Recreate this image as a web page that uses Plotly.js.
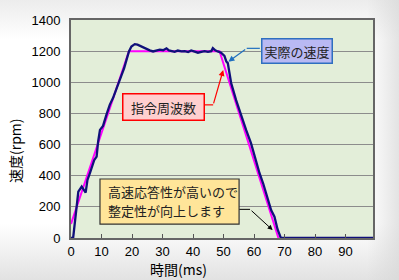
<!DOCTYPE html>
<html>
<head>
<meta charset="utf-8">
<script src="https://cdn.plot.ly/plotly-3.0.1.min.js"></script>
<style>
html,body{margin:0;padding:0;}
body{width:399px;height:280px;overflow:hidden;
background:
 linear-gradient(to right, rgba(255,255,255,0) 0%, rgba(255,255,255,0) 92%, rgba(215,215,215,0.7) 100%),
 linear-gradient(to bottom, #ececec 0%, #ffffff 14%, #ffffff 80%, #e2e2e2 100%);}
#chart{width:399px;height:280px;}
</style>
</head>
<body>
<div id="chart"></div>
<script>
// Command frequency (magenta)
const cmdTime = [0, 19, 48.7, 68];
const cmdSpeed = [90, 1200, 1200, 0];

// Actual speed (navy)
const actTime = [0, 0.7, 2.4, 3.5, 4.8, 5.4, 6.2, 7.0, 7.6, 8.4, 8.6, 8.9, 9.5, 10.5, 11.6, 12.7, 13.8, 14.9, 15.8, 16.6, 17.4, 18.2, 19.0, 19.8, 20.9, 21.8, 22.5, 23.5, 24.7, 25.8, 26.9, 28.0, 29.1, 30.2, 31.3, 32.1, 32.9, 34.0, 35.0, 36.2, 37.3, 38.4, 39.4, 40.5, 41.6, 42.7, 43.8, 44.9, 46.0, 46.5, 47.3, 48.1, 49.2, 50.3, 50.9, 51.4, 52.0, 52.5, 54.1, 55.8, 57.4, 59.0, 60.4, 61.8, 63.0, 64.0, 65.6, 66.7, 67.7, 68.8, 99];
const actSpeed = [0, 0, 298, 330, 291, 373, 416, 469, 500, 523, 577, 620, 694, 720, 791, 855, 900, 963, 1000, 1048, 1090, 1145, 1198, 1230, 1245, 1242, 1235, 1225, 1215, 1205, 1198, 1205, 1210, 1206, 1218, 1205, 1200, 1196, 1204, 1198, 1200, 1194, 1204, 1198, 1190, 1196, 1200, 1196, 1200, 1219, 1205, 1198, 1190, 1170, 1134, 1123, 1059, 995, 887, 780, 694, 609, 510, 416, 350, 287, 180, 137, 56, 0, 0];

const xTickVals = [0, 10, 20, 30, 40, 50, 60, 70, 80, 90];
const yTickVals = [0, 200, 400, 600, 800, 1000, 1200, 1400];

const labelActual = '実際の速度';
const labelCmd = '指令周波数';
const noteLine1 = '高速応答性が高いので';
const noteLine2 = '整定性が向上します';
const xTitle = '時間(ms)';
const yTitle = '速度(rpm)';

const jp = '"Noto Sans CJK JP", "Liberation Sans", sans-serif';

const traces = [
  {x: cmdTime, y: cmdSpeed, mode: 'lines', line: {color: '#FF00FF', width: 2}, hoverinfo: 'skip'},
  {x: actTime, y: actSpeed, mode: 'lines', line: {color: '#10107A', width: 2.3}, hoverinfo: 'skip'}
];

const pw = 399 - 71 - 26, ph = 280 - 20 - 42;

const layout = {
  width: 399, height: 280,
  margin: {l: 71, r: 26, t: 20, b: 42},
  paper_bgcolor: 'rgba(0,0,0,0)',
  plot_bgcolor: '#E3EED9',
  showlegend: false,
  font: {family: '"Liberation Sans", Arial, sans-serif', size: 13, color: '#000'},
  xaxis: {
    range: [0, 99], tickvals: xTickVals, ticks: 'inside', ticklen: 4, tickcolor: '#555',
    showgrid: false, zeroline: false, showline: true, linecolor: '#666', linewidth: 2, mirror: true,
    tickfont: {size: 13}, fixedrange: true
  },
  yaxis: {
    range: [0, 1400], tickvals: yTickVals, ticks: '', showgrid: true, gridcolor: '#8C8C8C', gridwidth: 1,
    zeroline: false, showline: true, linecolor: '#666', linewidth: 2, mirror: true,
    tickfont: {size: 13}, ticklabelstandoff: 6, fixedrange: true
  },
  shapes: [
    {type: 'line', xref: 'x', yref: 'y', x0: 57.6, y0: 1218, x1: 61.9, y1: 1218, line: {color: '#1F6FBF', width: 1.2}},
    {type: 'line', xref: 'x', yref: 'y', x0: 43.4, y0: 855, x1: 46.6, y1: 855, line: {color: '#FF0000', width: 1.2}},
    {type: 'line', xref: 'x', yref: 'y', x0: 55.1, y0: 184, x1: 58.7, y1: 184, line: {color: '#000', width: 1}},
    {type: 'rect', xref: 'x', yref: 'y', x0: 9.5, x1: 55.1, y0: 89, y1: 379, fillcolor: '#FFE599', line: {color: '#333', width: 1.2}, layer: 'above'}
  ],
  annotations: [
    {x: 51.6, y: 1132, ax: 57.6, ay: 1218, axref: 'x', ayref: 'y', xref: 'x', yref: 'y', text: '', showarrow: true, arrowhead: 2, arrowsize: 1, arrowwidth: 1.2, arrowcolor: '#1F6FBF'},
    {x: 49.9, y: 1079, ax: 46.6, ay: 855, axref: 'x', ayref: 'y', xref: 'x', yref: 'y', text: '', showarrow: true, arrowhead: 2, arrowsize: 1, arrowwidth: 1.2, arrowcolor: '#FF0000'},
    {x: 66.1, y: 51, ax: 58.7, ay: 184, axref: 'x', ayref: 'y', xref: 'x', yref: 'y', text: '', showarrow: true, arrowhead: 2, arrowsize: 1, arrowwidth: 1, arrowcolor: '#000'},
    {x: 74, y: 1202, xref: 'x', yref: 'y', text: labelActual, showarrow: false, font: {family: jp, size: 13, color: '#222'},
      bgcolor: '#B9B9F3', bordercolor: '#2F6FC0', borderwidth: 1.5, borderpad: 2},
    {x: 30.3, y: 840, xref: 'x', yref: 'y', text: labelCmd, showarrow: false, font: {family: jp, size: 13, color: '#222'},
      bgcolor: '#FFCFCF', bordercolor: '#FF0000', borderwidth: 1.5, borderpad: 3, width: 74},
    {x: 11.6, y: 296, xref: 'x', yref: 'y', xanchor: 'left', yanchor: 'middle', text: noteLine1, showarrow: false, font: {family: jp, size: 13, color: '#222'}},
    {x: 11.6, y: 178, xref: 'x', yref: 'y', xanchor: 'left', yanchor: 'middle', text: noteLine2, showarrow: false, font: {family: jp, size: 13, color: '#222'}},
    {x: (178 - 71) / pw, y: (238 - 269) / ph, xref: 'paper', yref: 'paper', xanchor: 'center', yanchor: 'middle',
      text: xTitle, showarrow: false, font: {family: jp, size: 14, color: '#000'}},
    {x: (15 - 71) / pw, y: (238 - 151) / ph, xref: 'paper', yref: 'paper', xanchor: 'center', yanchor: 'middle',
      text: yTitle, textangle: -90, showarrow: false, font: {family: jp, size: 14, color: '#000'}}
  ]
};

Plotly.newPlot('chart', traces, layout, {staticPlot: true, displayModeBar: false});
</script>
</body>
</html>
